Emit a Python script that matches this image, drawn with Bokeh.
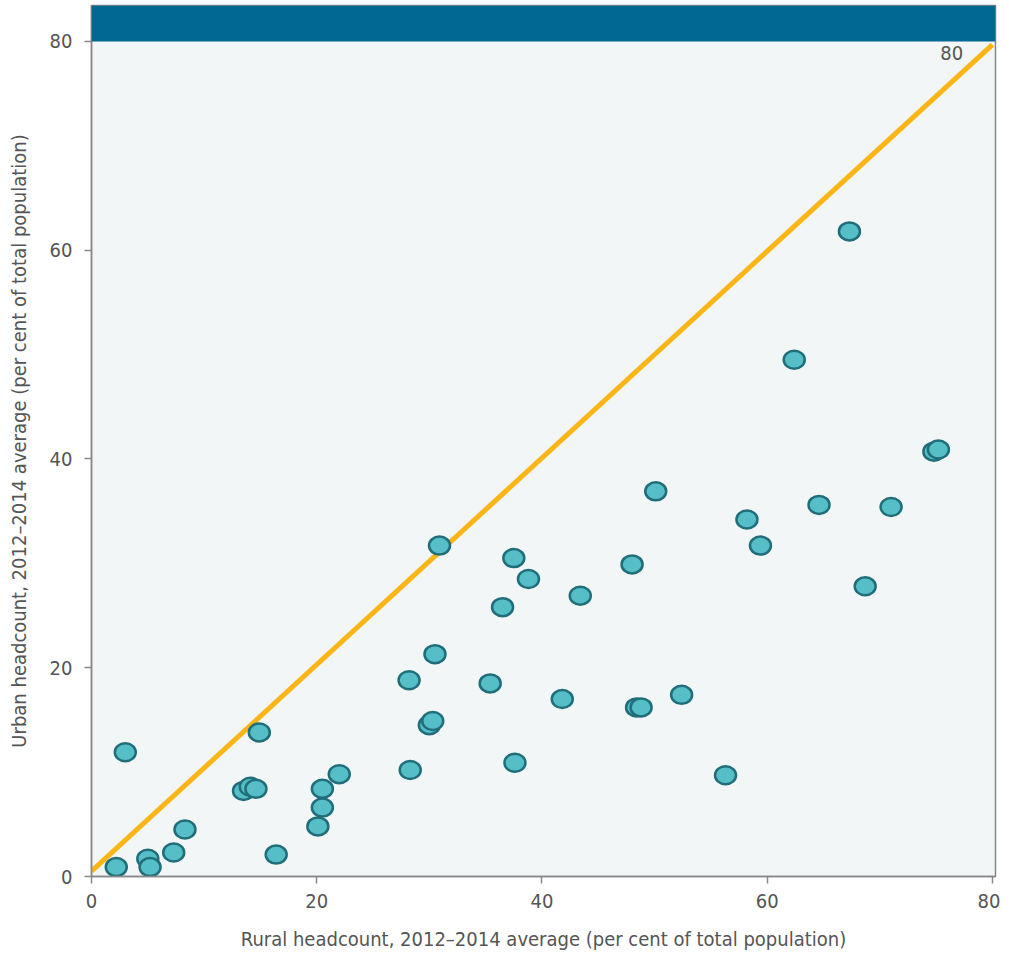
from bokeh.plotting import figure
from bokeh.models import Range1d, BoxAnnotation, FixedTicker
from bokeh.core.properties import value
from bokeh.embed import file_html
from bokeh.resources import INLINE

rural = [2.2, 3.0, 5.0, 5.2, 7.3, 8.3, 13.5, 14.1, 14.6, 14.9, 16.4, 20.1, 20.5, 20.5, 22.0,
         28.2, 28.3, 30.0, 30.3, 30.5, 30.9, 35.4, 36.5, 37.5, 37.6, 38.8, 41.8, 43.4, 48.0,
         48.4, 48.8, 50.1, 52.4, 56.3, 58.2, 59.4, 62.4, 64.6, 67.3, 68.7, 71.0, 74.8, 75.2]
urban = [0.9, 11.9, 1.7, 0.9, 2.3, 4.5, 8.2, 8.6, 8.4, 13.8, 2.1, 4.8, 6.6, 8.4, 9.8,
         18.8, 10.2, 14.5, 14.9, 21.3, 31.7, 18.5, 25.8, 30.5, 10.9, 28.5, 17.0, 26.9, 29.9,
         16.2, 16.2, 36.9, 17.4, 9.7, 34.2, 31.7, 49.5, 35.6, 61.8, 27.8, 35.4, 40.7, 40.9]
line_x = [0, 80]
line_y = [0.5, 79.7]
ticks = [0, 20, 40, 60, 80]
line_label = "80"

FONT = "DejaVu Sans Condensed"
GREY = "#555555"

p = figure(width=1000, height=953, output_backend="svg", toolbar_location=None,
           x_range=Range1d(0, 80.27), y_range=Range1d(0, 83.44),
           min_border_left=91, min_border_right=5, min_border_top=5, min_border_bottom=72)

p.background_fill_color = "#f2f6f7"
p.border_fill_color = "white"
p.outline_line_color = "#888888"
p.outline_line_width = 1.5
p.xgrid.visible = False
p.ygrid.visible = False

p.add_layout(BoxAnnotation(bottom=80, fill_color="#006892", fill_alpha=1.0, line_color=None))

p.line(line_x, line_y, line_color="#fbb516", line_width=5)
p.text(x=[77.4], y=[78.9], text=[line_label], text_align="right", text_baseline="middle",
       text_font=value(FONT), text_font_size="20px", text_color=GREY)

p.ellipse(x=rural, y=urban, width=21, height=18, width_units="screen", height_units="screen",
          fill_color="#56bec7", line_color="#1f6e7a", line_width=2.5)

for ax in (p.xaxis[0], p.yaxis[0]):
    ax.ticker = FixedTicker(ticks=ticks)
    ax.axis_line_color = "#888888"
    ax.axis_line_width = 1.5
    ax.major_tick_line_color = "#888888"
    ax.major_tick_line_width = 1.5
    ax.major_tick_in = 0
    ax.major_tick_out = 7
    ax.minor_tick_line_color = None
    ax.major_label_text_font = FONT
    ax.major_label_text_font_size = "20px"
    ax.major_label_text_color = GREY
    ax.axis_label_text_font = FONT
    ax.axis_label_text_font_size = "20px"
    ax.axis_label_text_color = GREY
    ax.axis_label_text_font_style = "normal"

p.xaxis.axis_label = "Rural headcount, 2012\u20132014 average (per cent of total population)"
p.yaxis.axis_label = "Urban headcount, 2012\u20132014 average (per cent of total population)"
p.xaxis.major_label_standoff = 10
p.xaxis.axis_label_standoff = 16
p.yaxis.major_label_standoff = 12
p.yaxis.axis_label_standoff = 16

open("out.html", "w").write(file_html(p, INLINE))
